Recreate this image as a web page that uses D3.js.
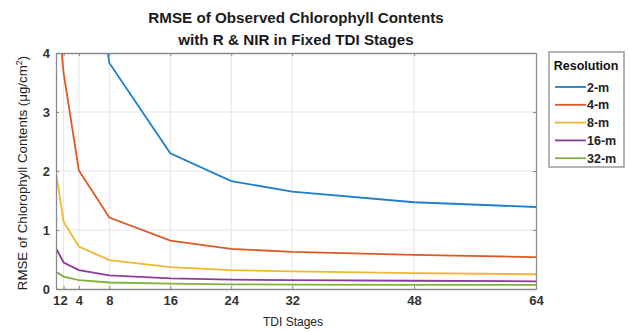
<!DOCTYPE html>
<html>
<head>
<meta charset="utf-8">
<script src="https://cdn.jsdelivr.net/npm/d3@7/dist/d3.min.js"></script>
<style>
  html, body { margin: 0; padding: 0; background: #fff; }
  svg { display: block; font-family: "Liberation Sans", Arial, sans-serif; }
</style>
</head>
<body>
<svg id="chart" width="630" height="332"></svg>
<script>
// TDI stage values (x) and RMSE per spatial resolution
const stages = [1, 2, 4, 8, 16, 24, 32, 48, 64];
const xTickValues = [1, 2, 4, 8, 16, 24, 32, 48, 64];
const xTickLabels = ["1", "2", "4", "8", "16", "24", "32", "48", "64"];
const yTickValues = [0, 1, 2, 3, 4];
const seriesNames = ["2-m", "4-m", "8-m", "16-m", "32-m"];
const seriesColors = ["#1f7fc8", "#dd5a24", "#efb733", "#8a3c98", "#7db23c"];
// null = not measured / off the chart scale
const rmse2m  = [null, null, 7.4, 3.83, 2.30, 1.83, 1.65, 1.47, 1.39];
const rmse4m  = [5.0, 3.66, 2.01, 1.21, 0.82, 0.68, 0.63, 0.58, 0.54];
const rmse8m  = [1.97, 1.14, 0.72, 0.49, 0.37, 0.32, 0.30, 0.27, 0.25];
const rmse16m = [0.69, 0.45, 0.32, 0.23, 0.18, 0.16, 0.15, 0.14, 0.13];
const rmse32m = [0.29, 0.21, 0.15, 0.11, 0.09, 0.08, 0.075, 0.07, 0.07];
const allSeries = [rmse2m, rmse4m, rmse8m, rmse16m, rmse32m];

const svg = d3.select("#chart");
const plotL = 56, plotR = 536, plotT = 53, plotB = 289;

const x = d3.scaleLinear().domain([1, 64]).range([plotL, plotR]);
const y = d3.scaleLinear().domain([0, 4]).range([plotB, plotT]);

// grid
const grid = svg.append("g").attr("stroke", "#e4e4e4").attr("stroke-width", 1);
grid.selectAll("line.v").data(xTickValues.filter(d => d > 1 && d < 64)).join("line")
  .attr("class", "v")
  .attr("x1", d => x(d)).attr("x2", d => x(d)).attr("y1", plotT).attr("y2", plotB);
grid.selectAll("line.h").data(yTickValues.filter(d => d > 0 && d < 4)).join("line")
  .attr("class", "h")
  .attr("x1", plotL).attr("x2", plotR).attr("y1", d => y(d)).attr("y2", d => y(d));

// clip for the plotting area
svg.append("clipPath").attr("id", "plotClip").append("rect")
  .attr("x", plotL).attr("y", plotT).attr("width", plotR - plotL).attr("height", plotB - plotT);

const line = d3.line()
  .defined(d => d.v !== null)
  .x(d => x(d.s)).y(d => y(d.v));

svg.append("g").attr("clip-path", "url(#plotClip)")
  .selectAll("path").data(allSeries).join("path")
  .attr("d", vals => line(vals.map((v, i) => ({ s: stages[i], v }))))
  .attr("fill", "none")
  .attr("stroke", (d, i) => seriesColors[i])
  .attr("stroke-width", 1.8);

// axes (box style, ticks pointing inward)
const axisColor = "#8a8a8a";
const xAxis = d3.axisBottom(x).tickValues(xTickValues).tickFormat((d, i) => xTickLabels[i])
  .tickSizeInner(-3).tickSizeOuter(0).tickPadding(7);
const gx = svg.append("g").attr("transform", `translate(0,${plotB})`).call(xAxis);
const yAxis = d3.axisLeft(y).tickValues(yTickValues).tickFormat(d3.format("d"))
  .tickSizeInner(-3).tickSizeOuter(0).tickPadding(6);
const gy = svg.append("g").attr("transform", `translate(${plotL},0)`).call(yAxis);
const xTop = d3.axisTop(x).tickValues(xTickValues).tickFormat("").tickSizeInner(-3).tickSizeOuter(0);
const gxt = svg.append("g").attr("transform", `translate(0,${plotT})`).call(xTop);
const yRight = d3.axisRight(y).tickValues(yTickValues).tickFormat("").tickSizeInner(-3).tickSizeOuter(0);
const gyr = svg.append("g").attr("transform", `translate(${plotR},0)`).call(yRight);

[gx, gy, gxt, gyr].forEach(g => {
  g.selectAll("path.domain").attr("stroke", axisColor).attr("stroke-width", 1.3);
  g.selectAll(".tick line").attr("stroke", axisColor);
  g.selectAll(".tick text").attr("fill", "#333").attr("font-size", 13)
    .attr("font-weight", "bold").attr("font-family", "Liberation Sans, Arial, sans-serif");
});

// titles
svg.append("text").attr("x", 296).attr("y", 23).attr("text-anchor", "middle")
  .attr("font-size", 15.2).attr("font-weight", "bold").attr("fill", "#1a1a1a")
  .text("RMSE of Observed Chlorophyll Contents");
svg.append("text").attr("x", 296).attr("y", 45).attr("text-anchor", "middle")
  .attr("font-size", 15.2).attr("font-weight", "bold").attr("fill", "#1a1a1a")
  .text("with R & NIR in Fixed TDI Stages");

svg.append("text").attr("x", 293).attr("y", 326).attr("text-anchor", "middle")
  .attr("font-size", 12).attr("fill", "#222").text("TDI Stages");

const yl = svg.append("text").attr("transform", `translate(27,${(plotT + plotB) / 2 + 2}) rotate(-90)`)
  .attr("text-anchor", "middle").attr("font-size", 13.3).attr("fill", "#222");
yl.append("tspan").text("RMSE of Chlorophyll Contents (μg/cm");
yl.append("tspan").attr("baseline-shift", "super").attr("font-size", 9).text("2");
yl.append("tspan").text(")");

// legend
const lg = svg.append("g");
lg.append("rect").attr("x", 549).attr("y", 52).attr("width", 75).attr("height", 115)
  .attr("fill", "#fff").attr("stroke", "#8a8a8a").attr("stroke-width", 1.3);
lg.append("text").attr("x", 586).attr("y", 70).attr("text-anchor", "middle")
  .attr("font-size", 12.5).attr("font-weight", "bold").attr("fill", "#111").text("Resolution");
const items = lg.selectAll("g.item").data(seriesNames).join("g")
  .attr("class", "item")
  .attr("transform", (d, i) => `translate(0,${87 + i * 17.8})`);
items.append("line").attr("x1", 555).attr("x2", 586).attr("y1", 0).attr("y2", 0)
  .attr("stroke", (d, i) => seriesColors[i]).attr("stroke-width", 1.8);
items.append("text").attr("x", 587).attr("y", 4.5).attr("font-size", 12.5)
  .attr("font-weight", "bold").attr("fill", "#222").text(d => d);
</script>
</body>
</html>
